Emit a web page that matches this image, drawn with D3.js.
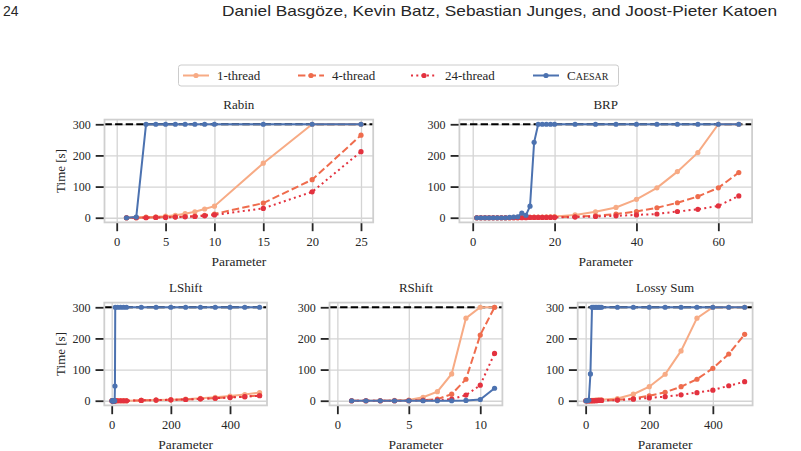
<!DOCTYPE html>
<html>
<head>
<meta charset="utf-8">
<script src="https://cdn.jsdelivr.net/npm/d3@7"></script>
<style>
    body { margin: 0; background: #fff; }
    text { font-family: "Liberation Serif", "DejaVu Serif", serif; fill: #262626; }
</style>
</head>
<body>
<svg id="chart" width="801" height="451"></svg>
<script>
// ---- data ----
const seriesNames = ['1-thread', '4-thread', '24-thread', 'Caesar'];
const yTicks = [0, 100, 200, 300];
const timeout = 300;

const rabinParams = [1, 2, 3, 4, 5, 6, 7, 8, 9, 10, 15, 20, 25];
const rabin1 = [0, 1, 2, 3, 5, 8, 13, 19, 28, 37, 175, 300, 300];
const rabin4 = [0, 0, 1, 1, 2, 3, 4, 5, 8, 12, 47, 122, 265];
const rabin24 = [0, 0, 0, 1, 1, 2, 3, 4, 6, 9, 30, 83, 212];
const rabinCaesar = [0, 2, 300, 300, 300, 300, 300, 300, 300, 300, 300, 300, 300];
const rabinTicks = [0, 5, 10, 15, 20, 25];

const brpParams = [1, 2, 3, 4, 5, 6, 7, 8, 9, 10, 11, 12, 13, 14, 15, 16, 17, 18, 19, 20, 25, 30, 35, 40, 45, 50, 55, 60, 65];
const brp1 = [0, 0, 0, 0, 0, 0, 0, 0, 0, 1, 1, 1, 1, 1, 2, 2, 2, 3, 3, 4, 9, 19, 33, 59, 96, 148, 209, 300, 300];
const brp4 = [0, 0, 0, 0, 0, 0, 0, 0, 0, 0, 0, 1, 1, 1, 1, 1, 1, 1, 2, 2, 4, 6, 12, 20, 32, 48, 68, 96, 145];
const brp24 = [0, 0, 0, 0, 0, 0, 0, 0, 0, 0, 0, 0, 0, 1, 1, 1, 1, 1, 1, 1, 2, 4, 6, 9, 12, 20, 27, 38, 70];
const brpCaesar = [0, 0, 0, 0, 0, 0, 0, 0, 1, 2, 3, 15, 8, 37, 242, 300, 300, 300, 300, 300, 300, 300, 300, 300, 300, 300, 300, 300, 300];
const brpTicks = [0, 20, 40, 60];

const lshiftParams = [1, 2, 3, 4, 5, 6, 7, 8, 9, 10, 11, 12, 20, 30, 40, 50, 100, 150, 200, 250, 300, 350, 400, 450, 500];
const lshift1 = [0, 0, 0, 0, 0, 0, 0, 0, 0, 0, 0, 0, 0, 0, 0, 0, 1, 2, 3, 5, 8, 11, 15, 20, 26];
const lshift4 = [0, 0, 0, 0, 0, 0, 0, 0, 0, 0, 0, 0, 0, 0, 0, 0, 1, 2, 3, 4, 6, 8, 11, 13, 17];
const lshift24 = [0, 0, 0, 0, 0, 0, 0, 0, 0, 0, 0, 0, 0, 0, 0, 0, 1, 2, 3, 4, 6, 8, 10, 13, 16];
const lshiftCaesar = [0, 0, 0, 0, 0, 0, 0, 0, 0, 0, 47, 300, 300, 300, 300, 300, 300, 300, 300, 300, 300, 300, 300, 300, 300];
const lshiftTicks = [0, 200, 400];

const rshiftParams = [1, 2, 3, 4, 5, 6, 7, 8, 9, 10, 11];
const rshift1 = [0, 0, 0, 1, 2, 11, 29, 86, 265, 300, 300];
const rshift4 = [0, 0, 0, 0, 1, 2, 5, 21, 69, 211, 300];
const rshift24 = [0, 0, 0, 0, 0, 1, 2, 5, 18, 50, 152];
const rshiftCaesar = [0, 0, 0, 0, 0, 0, 0, 0, 1, 4, 40];
const rshiftTicks = [0, 5, 10];

const lossyParams = [1, 5, 10, 15, 20, 25, 30, 35, 40, 45, 50, 100, 150, 200, 250, 300, 350, 400, 450, 500];
const lossy1 = [0, 0, 0, 0, 1, 1, 1, 2, 2, 2, 3, 7, 21, 45, 85, 160, 265, 300, 300, 300];
const lossy4 = [0, 0, 0, 0, 0, 0, 1, 1, 1, 1, 1, 3, 7, 16, 27, 45, 69, 104, 150, 213];
const lossy24 = [0, 0, 0, 0, 0, 0, 0, 0, 1, 1, 1, 2, 5, 9, 13, 19, 26, 34, 48, 61];
const lossyCaesar = [0, 0, 2, 86, 300, 300, 300, 300, 300, 300, 300, 300, 300, 300, 300, 300, 300, 300, 300, 300];
const lossyTicks = [0, 200, 400];

// ---- style ----
const colors = ['#f7ab85', '#ef6c4d', '#e3323f', '#4c72b0'];
const dashes = [null, '7.4,3.2', '2,3.3', null];
const ink = '#262626';
const gridColor = '#d4d4d4';

const svg = d3.select('#chart');

// header line of the page
svg.append('text')
    .attr('x', 3)
    .attr('y', 16)
    .style('font-family', '"Liberation Sans", sans-serif')
    .style('font-size', '14px')
    .text('24');

svg.append('text')
    .attr('x', 222)
    .attr('y', 16)
    .attr('textLength', 555)
    .attr('lengthAdjust', 'spacingAndGlyphs')
    .style('font-family', '"Liberation Sans", sans-serif')
    .style('font-size', '15px')
    .text('Daniel Basgöze, Kevin Batz, Sebastian Junges, and Joost-Pieter Katoen');

const panels = [
    { title: 'Rabin', params: rabinParams, series: [rabin1, rabin4, rabin24, rabinCaesar], ticks: rabinTicks,
      xmax: 25, left: 104.5, right: 373.2, top: 119.6, bottom: 222.4, ylabel: true },
    { title: 'BRP', params: brpParams, series: [brp1, brp4, brp24, brpCaesar], ticks: brpTicks,
      xmax: 65, left: 459.4, right: 752.1, top: 119.6, bottom: 222.4, ylabel: false },
    { title: 'LShift', params: lshiftParams, series: [lshift1, lshift4, lshift24, lshiftCaesar], ticks: lshiftTicks,
      xmax: 500, left: 104.3, right: 267, top: 302.6, bottom: 405.4, ylabel: true },
    { title: 'RShift', params: rshiftParams, series: [rshift1, rshift4, rshift24, rshiftCaesar], ticks: rshiftTicks,
      xmax: 11, left: 329.5, right: 502.4, top: 302.6, bottom: 405.4, ylabel: false },
    { title: 'Lossy Sum', params: lossyParams, series: [lossy1, lossy4, lossy24, lossyCaesar], ticks: lossyTicks,
      xmax: 500, left: 577.7, right: 752.6, top: 302.6, bottom: 405.4, ylabel: false }
];

panels.forEach(drawPanel);
drawLegend();

function drawPanel(p) {
    // matplotlib-like 5% margins on [0, xmax] and [0, 300]
    const xPad = p.xmax * 0.05;
    const x = d3.scaleLinear().domain([-xPad, p.xmax + xPad]).range([p.left, p.right]);
    const y = d3.scaleLinear().domain([-15, 315]).range([p.bottom, p.top]);
    const w = p.right - p.left;
    const h = p.bottom - p.top;

    const g = svg.append('g');

    // grid
    g.append('g')
        .attr('transform', `translate(0,${p.bottom})`)
        .call(d3.axisBottom(x).tickValues(p.ticks).tickSize(-h).tickFormat(''))
        .call(a => a.select('.domain').remove())
        .call(a => a.selectAll('line').attr('stroke', gridColor).attr('stroke-width', 1.3));

    g.append('g')
        .attr('transform', `translate(${p.left},0)`)
        .call(d3.axisLeft(y).tickValues(yTicks).tickSize(-w).tickFormat(''))
        .call(a => a.select('.domain').remove())
        .call(a => a.selectAll('line').attr('stroke', gridColor).attr('stroke-width', 1.3));

    // timeout line
    g.append('line')
        .attr('x1', x.range()[0])
        .attr('x2', x.range()[1])
        .attr('y1', y(timeout))
        .attr('y2', y(timeout))
        .attr('stroke', '#000')
        .attr('stroke-width', 2)
        .attr('stroke-dasharray', '7.4,3.2');

    // series
    const line = d3.line()
        .x(d => x(d[0]))
        .y(d => y(d[1]));

    p.series.forEach((vals, i) => {
        const pts = p.params.map((v, j) => [v, vals[j]]);
        g.append('path')
            .datum(pts)
            .attr('d', line)
            .attr('fill', 'none')
            .attr('stroke', colors[i])
            .attr('stroke-width', 2)
            .attr('stroke-dasharray', dashes[i]);

        g.selectAll(null)
            .data(pts)
            .join('circle')
            .attr('cx', d => x(d[0]))
            .attr('cy', d => y(d[1]))
            .attr('r', 2.6)
            .attr('fill', colors[i]);
    });

    // frame
    g.append('rect')
        .attr('x', p.left)
        .attr('y', p.top)
        .attr('width', w)
        .attr('height', h)
        .attr('fill', 'none')
        .attr('stroke', '#cfcfcf')
        .attr('stroke-width', 1.8);

    // axes with tick marks
    g.append('g')
        .attr('transform', `translate(0,${p.bottom + 0.8})`)
        .call(d3.axisBottom(x).tickValues(p.ticks).tickSize(8).tickPadding(6))
        .call(a => a.select('.domain').remove())
        .call(a => a.selectAll('line').attr('stroke', ink).attr('stroke-width', 1.8))
        .call(a => a.selectAll('text').style('font-size', '12.5px')
            .style('font-family', '"Liberation Serif", serif').attr('fill', ink));

    g.append('g')
        .attr('transform', `translate(${p.left - 0.8},0)`)
        .call(d3.axisLeft(y).tickValues(yTicks).tickSize(8).tickPadding(5))
        .call(a => a.select('.domain').remove())
        .call(a => a.selectAll('line').attr('stroke', ink).attr('stroke-width', 1.8))
        .call(a => a.selectAll('text').style('font-size', '12px')
            .style('font-family', '"Liberation Serif", serif').attr('fill', ink));

    // labels
    g.append('text')
        .attr('x', (p.left + p.right) / 2)
        .attr('y', p.top - 11)
        .attr('text-anchor', 'middle')
        .style('font-size', '13px')
        .text(p.title);

    g.append('text')
        .attr('x', (p.left + p.right) / 2)
        .attr('y', p.bottom + 44)
        .attr('text-anchor', 'middle')
        .style('font-size', '13.5px')
        .text('Parameter');

    if (p.ylabel) {
        g.append('text')
            .attr('transform', `translate(65,${(p.top + p.bottom) / 2}) rotate(-90)`)
            .attr('text-anchor', 'middle')
            .style('font-size', '13px')
            .text('Time [s]');
    }
}

function drawLegend() {
    const lg = svg.append('g');
    lg.append('rect')
        .attr('x', 178.5)
        .attr('y', 65)
        .attr('width', 440)
        .attr('height', 21)
        .attr('rx', 2.5)
        .attr('fill', '#fff')
        .attr('stroke', '#cccccc')
        .attr('stroke-width', 1);

    const starts = [183, 298, 411, 533];
    seriesNames.forEach((name, i) => {
        const sx = starts[i];
        lg.append('line')
            .attr('x1', sx)
            .attr('x2', sx + 26)
            .attr('y1', 75.5)
            .attr('y2', 75.5)
            .attr('stroke', colors[i])
            .attr('stroke-width', 2)
            .attr('stroke-dasharray', dashes[i]);
        lg.append('circle')
            .attr('cx', sx + 13)
            .attr('cy', 75.5)
            .attr('r', 2.6)
            .attr('fill', colors[i]);

        const t = lg.append('text')
            .attr('x', sx + 34)
            .attr('y', 80)
            .style('font-size', '13px');
        if (name === 'Caesar') {
            t.append('tspan').text('C');
            t.append('tspan').style('font-size', '10px').text('AESAR');
        } else {
            t.text(name);
        }
    });
}
</script>
</body>
</html>
